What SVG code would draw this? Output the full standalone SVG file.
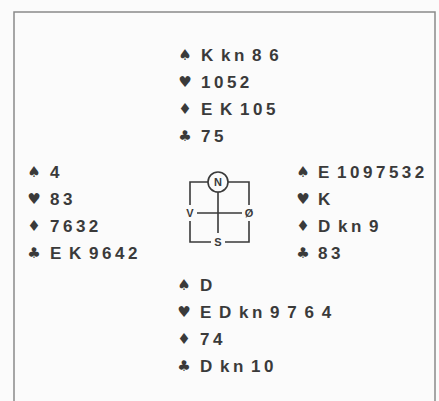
<svg xmlns="http://www.w3.org/2000/svg" width="439" height="401" viewBox="0 0 439 401">
<style>
.t{font-family:"Liberation Sans",Arial,sans-serif;font-size:17px;font-weight:bold;fill:#3a3a3a;letter-spacing:3.5px;word-spacing:-4px}
.s{font-family:"DejaVu Sans",sans-serif;font-size:15px;fill:#3a3a3a;text-anchor:middle}
.c{font-family:"Liberation Sans",Arial,sans-serif;font-size:11px;font-weight:bold;fill:#3a3a3a;text-anchor:middle}
.ln{stroke:#3a3a3a;stroke-width:1.6;fill:none}
</style>
<rect width="439" height="401" fill="#fbfbfb"/>
<path d="M14,401 V12 H435 V401" fill="none" stroke="#8a8a8a" stroke-width="1.5"/>
<g id="north">
<text class="s" x="185" y="60">♠</text><text class="t" x="201" y="61">K kn 8 6</text>
<text class="s" x="185" y="87">♥</text><text class="t" x="201" y="88">1052</text>
<text class="s" x="185" y="114">♦</text><text class="t" x="201" y="115">E K 105</text>
<text class="s" x="185" y="141">♣</text><text class="t" x="201" y="142">75</text>
</g>
<g id="west">
<text class="s" x="34" y="177">♠</text><text class="t" x="50" y="178">4</text>
<text class="s" x="34" y="204">♥</text><text class="t" x="50" y="205">83</text>
<text class="s" x="34" y="231">♦</text><text class="t" x="50" y="232">7632</text>
<text class="s" x="34" y="258">♣</text><text class="t" x="50" y="259">E K 9642</text>
</g>
<g id="east">
<text class="s" x="303" y="177">♠</text><text class="t" x="318" y="178">E 1097532</text>
<text class="s" x="303" y="204">♥</text><text class="t" x="318" y="205">K</text>
<text class="s" x="303" y="231">♦</text><text class="t" x="318" y="232">D kn 9</text>
<text class="s" x="303" y="258">♣</text><text class="t" x="318" y="259">83</text>
</g>
<g id="south">
<text class="s" x="184" y="290">♠</text><text class="t" x="200" y="291">D</text>
<text class="s" x="184" y="317">♥</text><text class="t" x="200" y="318">E D kn 9 7 6 4</text>
<text class="s" x="184" y="344">♦</text><text class="t" x="200" y="345">74</text>
<text class="s" x="184" y="371">♣</text><text class="t" x="200" y="372">D kn 10</text>
</g>
<g id="compass">
<path class="ln" d="M208,182 H190 V205 M190,221 V242 H211 M225,242 H249 V221 M249,205 V182 H228"/>
<circle class="ln" cx="218" cy="182" r="10"/>
<path class="ln" d="M218,192 V233 M197,213 H242"/>
<text class="c" x="218" y="186">N</text>
<text class="c" x="190" y="217">V</text>
<text class="c" x="249" y="217">Ø</text>
<text class="c" x="218" y="246">S</text>
</g>
</svg>
